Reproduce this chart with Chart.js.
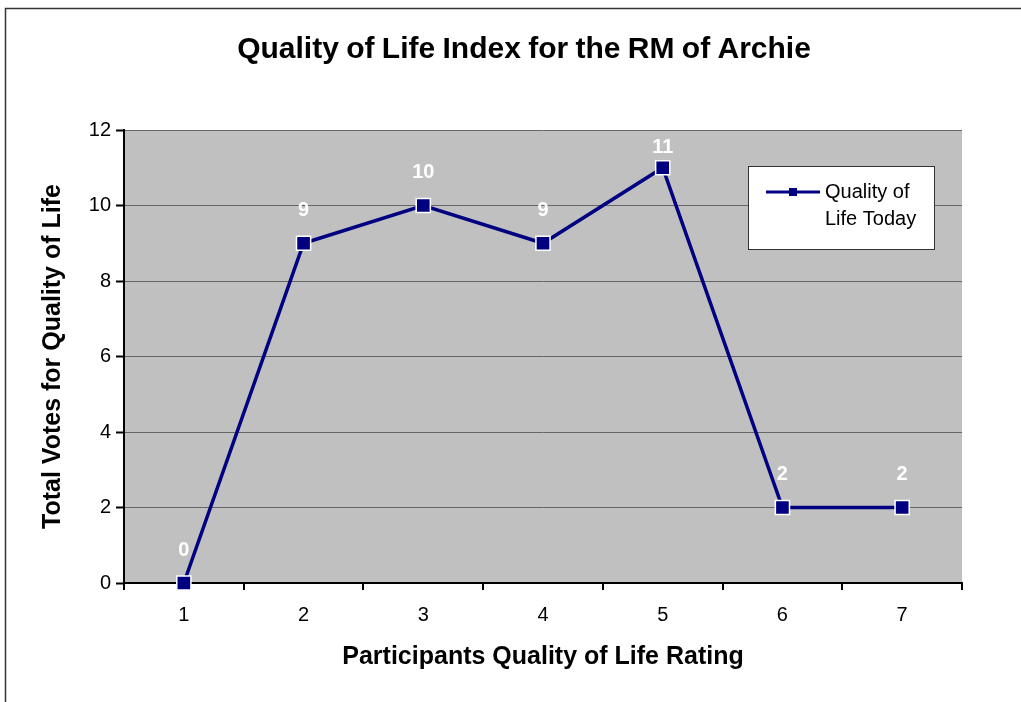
<!DOCTYPE html>
<html>
<head>
<meta charset="utf-8">
<script src="https://cdn.jsdelivr.net/npm/chart.js@4/dist/chart.umd.min.js"></script>
<style>
  html, body { margin: 0; padding: 0; background: #fff; }
  #wrap { width: 1021px; height: 702px; }
</style>
</head>
<body>
<div id="wrap"><canvas id="lineChart"></canvas></div>
<script>
// data
const ratings = ['1', '2', '3', '4', '5', '6', '7'];
const votes = [0, 9, 10, 9, 11, 2, 2];
const yTicks = [0, 2, 4, 6, 8, 10, 12];
const seriesName = ['Quality of', 'Life Today'];
const chartTitle = 'Quality of Life Index for the RM of Archie';

const FONT = "'Liberation Sans', Arial, sans-serif";
Chart.defaults.font.family = FONT;
Chart.defaults.color = '#000';

// white page with the thin frame at top / left, plot fill, title
const pageFrame = {
  id: 'pageFrame',
  beforeDraw(chart) {
    const ctx = chart.ctx;
    const a = chart.chartArea;
    ctx.save();
    ctx.fillStyle = '#fff';
    ctx.fillRect(0, 0, chart.width, chart.height);
    ctx.strokeStyle = '#333';
    ctx.lineWidth = 1.5;
    ctx.beginPath();
    ctx.moveTo(5.5, chart.height);
    ctx.lineTo(5.5, 8.5);
    ctx.lineTo(chart.width, 8.5);
    ctx.stroke();
    // plot area
    ctx.fillStyle = '#c0c0c0';
    ctx.fillRect(a.left, a.top, a.right - a.left, a.bottom - a.top);
    // title
    ctx.fillStyle = '#000';
    ctx.font = 'bold 30px ' + FONT;
    ctx.wordSpacing = '-1px';
    ctx.textAlign = 'center';
    ctx.textBaseline = 'middle';
    ctx.fillText(chartTitle, 524, 50, 582);
    ctx.restore();
  }
};

// white value labels above each point
const valueLabels = {
  id: 'valueLabels',
  afterDatasetsDraw(chart) {
    const ctx = chart.ctx;
    const a = chart.chartArea;
    const meta = chart.getDatasetMeta(0);
    ctx.save();
    ctx.fillStyle = '#fff';
    ctx.font = 'bold 20px ' + FONT;
    ctx.textAlign = 'center';
    ctx.textBaseline = 'middle';
    meta.data.forEach((pt, i) => {
      const y = Math.max(pt.y - 33, a.top + 17);
      ctx.fillText(String(votes[i]), pt.x, y);
    });
    ctx.restore();
  }
};

// boxed legend with two-line label
const boxLegend = {
  id: 'boxLegend',
  afterDraw(chart) {
    const ctx = chart.ctx;
    const a = chart.chartArea;
    const x = a.right - 214, y = a.top + 36, w = 186, h = 83;
    ctx.save();
    ctx.fillStyle = '#fff';
    ctx.fillRect(x, y, w, h);
    ctx.strokeStyle = '#333';
    ctx.lineWidth = 1;
    ctx.strokeRect(x + 0.5, y + 0.5, w, h);
    ctx.strokeStyle = '#000080';
    ctx.lineWidth = 3;
    ctx.beginPath();
    ctx.moveTo(x + 18, y + 26);
    ctx.lineTo(x + 72, y + 26);
    ctx.stroke();
    ctx.fillStyle = '#000080';
    ctx.fillRect(x + 41, y + 22, 8, 8);
    ctx.fillStyle = '#000';
    ctx.font = '20px ' + FONT;
    ctx.textAlign = 'left';
    ctx.textBaseline = 'middle';
    ctx.fillText(seriesName[0], x + 77, y + 26, 88);
    ctx.fillText(seriesName[1], x + 77, y + 53, 100);
    ctx.restore();
  }
};

const data = {
  labels: ratings,
  datasets: [{
    label: seriesName.join(' '),
    data: votes,
    borderColor: '#000080',
    borderWidth: 3.5,
    tension: 0,
    pointStyle: 'rect',
    pointRadius: 10,
    pointHoverRadius: 10,
    pointBackgroundColor: '#000080',
    pointBorderColor: '#fff',
    pointBorderWidth: 1.5,
    clip: false
  }]
};

const config = {
  type: 'line',
  data,
  options: {
    responsive: true,
    maintainAspectRatio: false,
    animation: false,
    devicePixelRatio: 1,
    layout: { padding: { top: 130, right: 59, bottom: 0, left: 0 } },
    plugins: {
      legend: { display: false },
      title: { display: false },
      tooltip: { enabled: false }
    },
    scales: {
      x: {
        type: 'category',
        offset: true,
        afterFit(scale) { scale.height = 119; },
        grid: {
          offset: true,
          drawOnChartArea: false,
          color: '#000',
          lineWidth: 2,
          tickLength: 7
        },
        border: { color: '#000', width: 2 },
        ticks: { font: { size: 20 }, color: '#000', padding: 13 },
        title: {
          display: true,
          text: 'Participants Quality of Life Rating',
          font: { size: 25, weight: 'bold' },
          color: '#000',
          padding: { top: 0, bottom: 30 }
        }
      },
      y: {
        min: 0,
        max: 12,
        afterBuildTicks(scale) { scale.ticks = yTicks.map(v => ({ value: v })); },
        afterFit(scale) { scale.width = 124; },
        grid: {
          color: '#666',
          lineWidth: 1,
          tickColor: '#000',
          tickWidth: 2,
          tickLength: 8
        },
        border: { color: '#000', width: 2 },
        ticks: { font: { size: 20 }, color: '#000', padding: 5 },
        title: {
          display: true,
          text: 'Total Votes for Quality of Life',
          font: { size: 25, weight: 'bold' },
          color: '#000',
          padding: { top: 38, bottom: 0 }
        }
      }
    }
  },
  plugins: [pageFrame, valueLabels, boxLegend]
};

const myChart = new Chart(document.getElementById('lineChart'), config);
</script>
</body>
</html>
